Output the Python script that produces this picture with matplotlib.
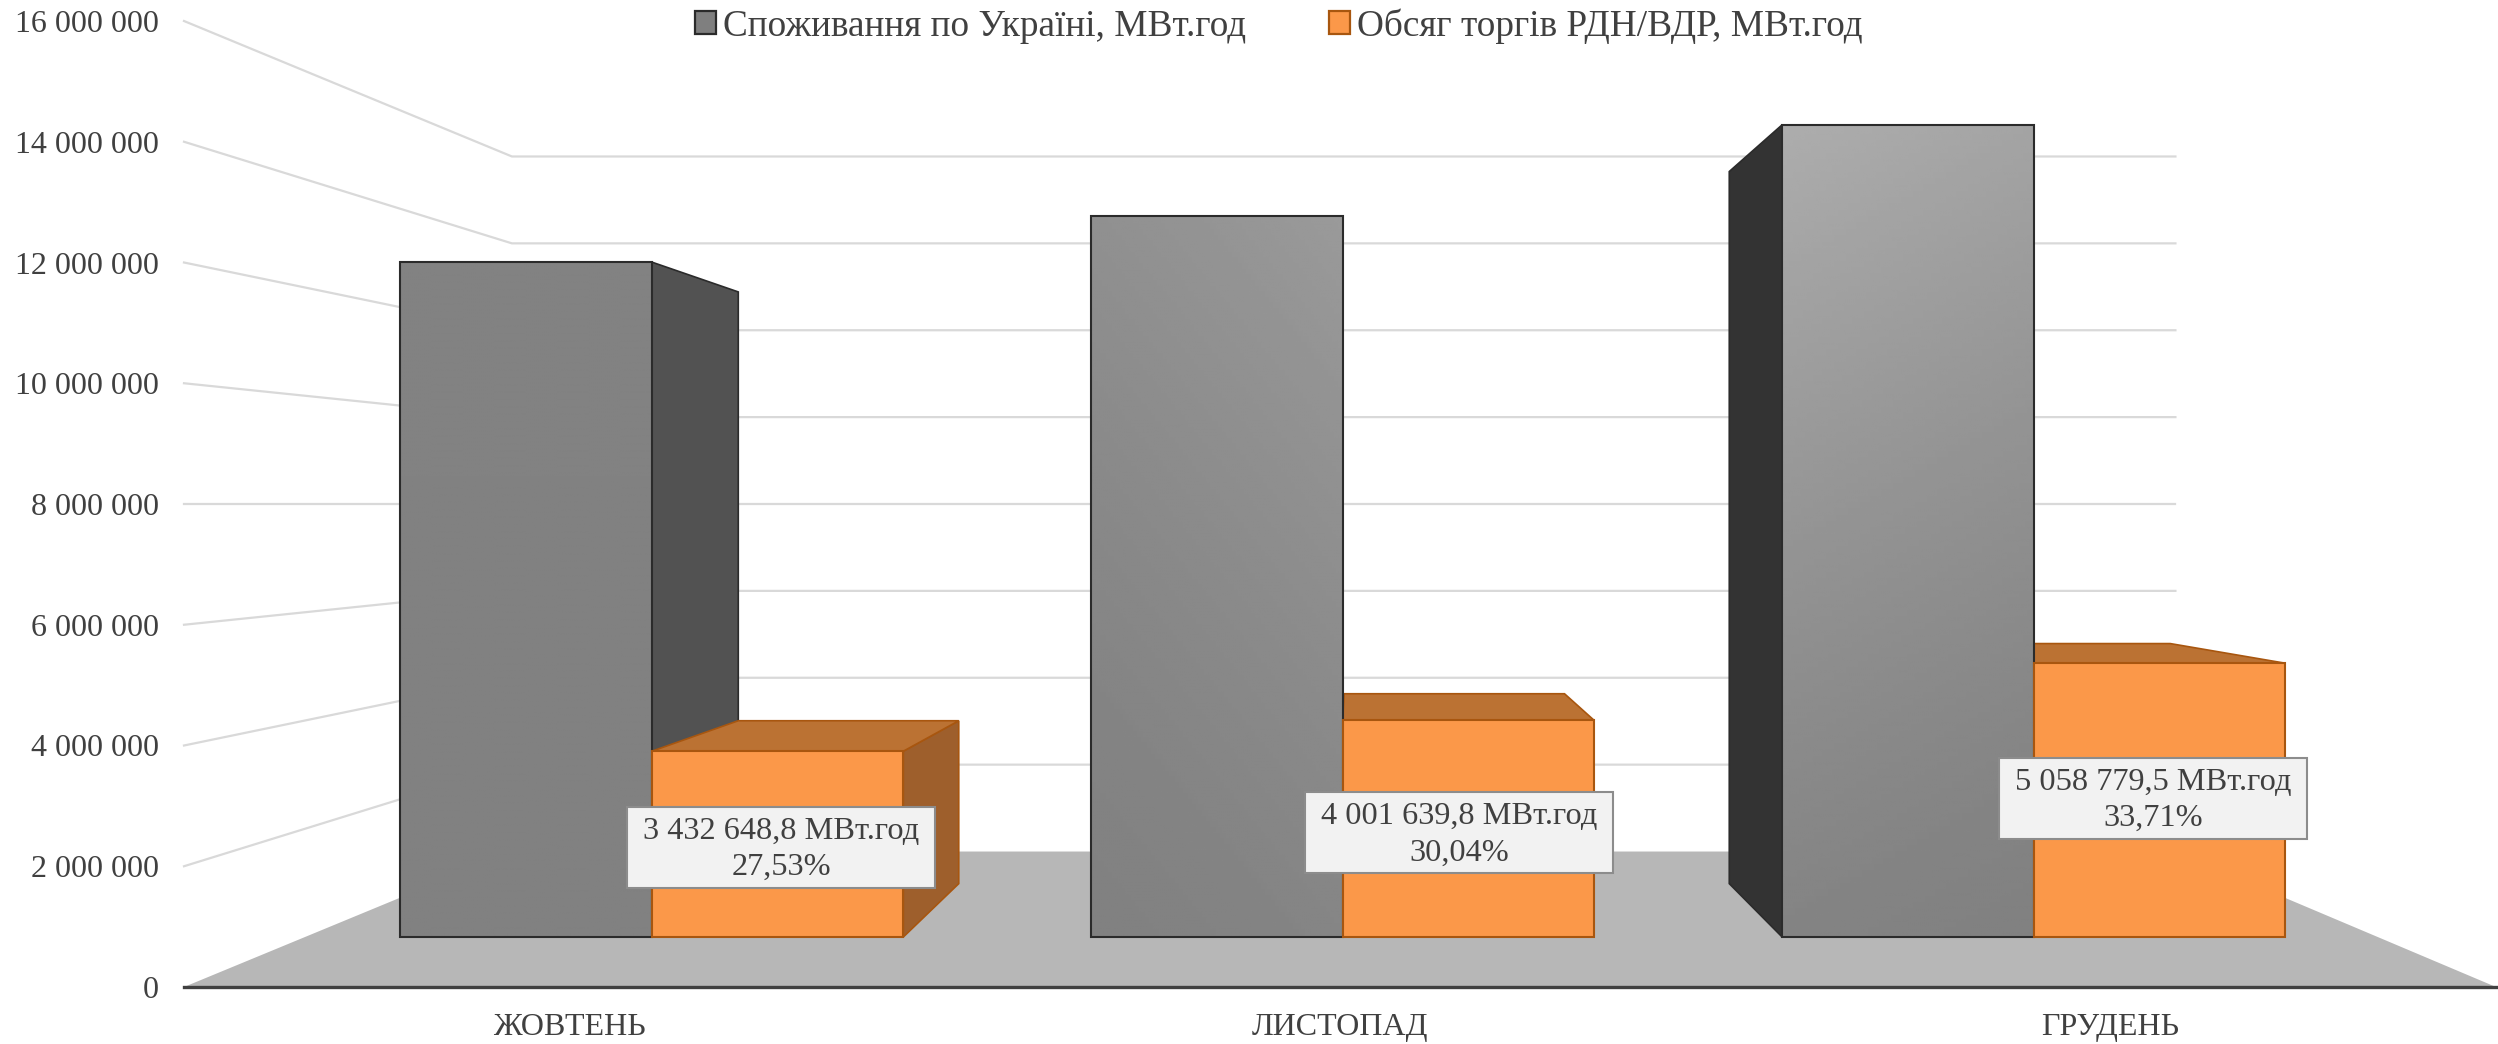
import numpy as np
import matplotlib
matplotlib.use("Agg")
import matplotlib.pyplot as plt
from matplotlib.patches import Polygon, Patch, Rectangle
from matplotlib.transforms import ScaledTranslation

plt.rcParams['font.family'] = ['Liberation Serif', 'DejaVu Serif']

months = ['ЖОВТЕНЬ', 'ЛИСТОПАД', 'ГРУДЕНЬ']
consumption = [12469000, 13321000, 15006000]
traded = [3432648.8, 4001639.8, 5058779.5]
shares = ['27,53%', '30,04%', '33,71%']
trade_labels = ['3 432 648,8 МВт.год', '4 001 639,8 МВт.год', '5 058 779,5 МВт.год']
y_ticks = [0, 2000000, 4000000, 6000000, 8000000, 10000000, 12000000, 14000000, 16000000]
y_labels = ['0', '2 000 000', '4 000 000', '6 000 000', '8 000 000',
            '10 000 000', '12 000 000', '14 000 000', '16 000 000']
series_names = ['Споживання по Україні, МВт.год', 'Обсяг торгів РДН/ВДР, МВт.год']

W, H = 2498, 1044
DPI = 100
TXT = '#404040'
fig = plt.figure(figsize=(W / DPI, H / DPI), dpi=DPI, facecolor='white')
ax = fig.add_axes([184 / W, 1 - 987 / H, (2496 - 184) / W, (987 - 21) / H])
XLIM = (-0.5, 2.5)
YLIM = (0, 16000000)

# perspective of the 3-D chart: depth scale towards a vanishing point
VPX, VPY = 1.017, 8000000
S_WALL, S_FRONT, S_BACK = 0.7195, 0.8965, 0.786


def pr(x, v, s):
    return (VPX + (x - VPX) * s, VPY + (v - VPY) * s)


def poly(pts, z, fc='none', ec='none', lw=0.0, fill=True):
    p = Polygon(pts, closed=True, facecolor=fc if fill else 'none', edgecolor=ec,
                linewidth=lw, zorder=z, clip_on=False, joinstyle='miter')
    ax.add_patch(p)
    return p


# floor
poly([pr(XLIM[0], 0, 1), pr(XLIM[1], 0, 1), pr(XLIM[1], 0, S_WALL), pr(XLIM[0], 0, S_WALL)],
     1, fc='#b7b7b7')

# gridlines: side wall + back wall
for t in y_ticks[1:]:
    a, b, c = pr(XLIM[0], t, 1), pr(XLIM[0], t, S_WALL), pr(XLIM[1], t, S_WALL)
    ax.plot([a[0], b[0], c[0]], [a[1], b[1], c[1]], color='#d9d9d9', lw=1.6, zorder=0.5,
            clip_on=False, solid_joinstyle='miter')

BW = 0.364
SHIFT = 0.002
G_EC, O_EC = '#2b2b2b', '#a8560f'
O_FC, O_TOP, O_SIDE = '#fb9849', '#bb7233', '#9e5f2c'
G_TOPS = ['#828282', '#9a9a9a', '#adadad']
G_SLANT = [0.0, 0.3, -0.15]
G_SIDES = ['#525252', '#4a4a4a', '#333333']
LABEL_OFF_PX = [(3.5, -3.5), (-9, -4), (-6.5, 2)]

for i in range(3):
    gx0, gx1, ox1 = i + SHIFT - BW, i + SHIFT, i + SHIFT + BW
    gv, ov = consumption[i], traded[i]
    # gray side wall (only when clearly off the sight line)
    if gx1 < VPX - 0.1:
        poly([pr(gx1, 0, S_FRONT), pr(gx1, gv, S_FRONT), pr(gx1, gv, S_BACK), pr(gx1, 0, S_BACK)],
             3, fc=G_SIDES[i], ec=G_EC, lw=1.2)
    if gx0 > VPX + 0.1:
        poly([pr(gx0, 0, S_FRONT), pr(gx0, gv, S_FRONT), pr(gx0, gv, S_BACK), pr(gx0, 0, S_BACK)],
             3, fc=G_SIDES[i], ec=G_EC, lw=1.2)
    # orange side + top
    if ox1 < VPX:
        poly([pr(ox1, 0, S_FRONT), pr(ox1, ov, S_FRONT), pr(ox1, ov, S_BACK), pr(ox1, 0, S_BACK)],
             4, fc=O_SIDE, ec=O_EC, lw=1.2)
    poly([pr(gx1, ov, S_FRONT), pr(ox1, ov, S_FRONT), pr(ox1, ov, S_BACK), pr(gx1, ov, S_BACK)],
         4, fc=O_TOP, ec=O_EC, lw=1.2)
    # gray front with gradient
    (fx0, fy0), (fx1, fy1) = pr(gx0, 0, S_FRONT), pr(gx1, gv, S_FRONT)
    top = int(G_TOPS[i][1:3], 16) / 255
    yy, xx = np.mgrid[0:1:128j, 0:1:128j]
    sl = G_SLANT[i]
    tt = yy * (1 - abs(sl)) + (xx if sl > 0 else (1 - xx)) * abs(sl)
    shade = 0.505 + (top - 0.505) * np.clip(tt, 0, 1) ** 1.4
    im = ax.imshow(shade, cmap='gray', vmin=0, vmax=1, origin='lower', aspect='auto',
                   extent=(fx0, fx1, fy0, fy1), zorder=5, interpolation='bilinear')
    im.set_clip_on(False)
    poly([(fx0, fy0), (fx1, fy0), (fx1, fy1), (fx0, fy1)], 5.1, ec=G_EC, lw=1.5, fill=False)
    # orange front
    poly([pr(gx1, 0, S_FRONT), pr(ox1, 0, S_FRONT), pr(ox1, ov, S_FRONT), pr(gx1, ov, S_FRONT)],
         6, fc=O_FC, ec=O_EC, lw=1.5)
    # data label: fixed-size box (inches) anchored on the bar's face centre
    cx, cy = pr(i + SHIFT + BW / 2, ov / 2, S_FRONT)
    dx, dy = LABEL_OFF_PX[i]
    tr = fig.dpi_scale_trans + ScaledTranslation(cx, cy, ax.transData)
    ax.add_patch(Rectangle((dx / DPI - 1.54, dy / DPI - 0.405), 3.08, 0.81, transform=tr,
                           fc='#f2f2f2', ec='#8c8c8c', lw=1.5, zorder=7.5, clip_on=False))
    ax.annotate(trade_labels[i] + '\n' + shares[i], (cx, cy), xytext=(dx * 0.72, dy * 0.72 - 1.5),
                textcoords='offset points', ha='center', va='center', fontsize=23.3, color=TXT,
                linespacing=1.33, zorder=8, annotation_clip=False)

ax.set_xlim(*XLIM)
ax.set_ylim(*YLIM)
ax.patch.set_visible(False)
for sp in ('top', 'left', 'right'):
    ax.spines[sp].set_visible(False)
ax.spines['bottom'].set_color('#404040')
ax.spines['bottom'].set_linewidth(2.4)
ax.spines['bottom'].set_zorder(7)
ax.set_xticks(range(3))
ax.set_xticklabels(months)
ax.set_yticks(y_ticks)
ax.set_yticklabels(y_labels)
ax.tick_params(axis='x', length=0, pad=18.5, labelsize=23, labelcolor=TXT)
ax.tick_params(axis='y', length=0, pad=18, labelsize=23, labelcolor=TXT)

handles = [Patch(fc='#7f7f7f', ec='#2b2b2b', lw=1.6), Patch(fc=O_FC, ec=O_EC, lw=1.6)]
leg = fig.legend(handles, series_names, ncols=2, loc='center', bbox_to_anchor=(1279 / W, 1 - 26 / H),
                 frameon=False, fontsize=26.8, handlelength=0.55, handleheight=0.6,
                 handletextpad=0.2, columnspacing=2.22, labelcolor=TXT, borderpad=0, borderaxespad=0)

fig.savefig('out.png', dpi=DPI)
